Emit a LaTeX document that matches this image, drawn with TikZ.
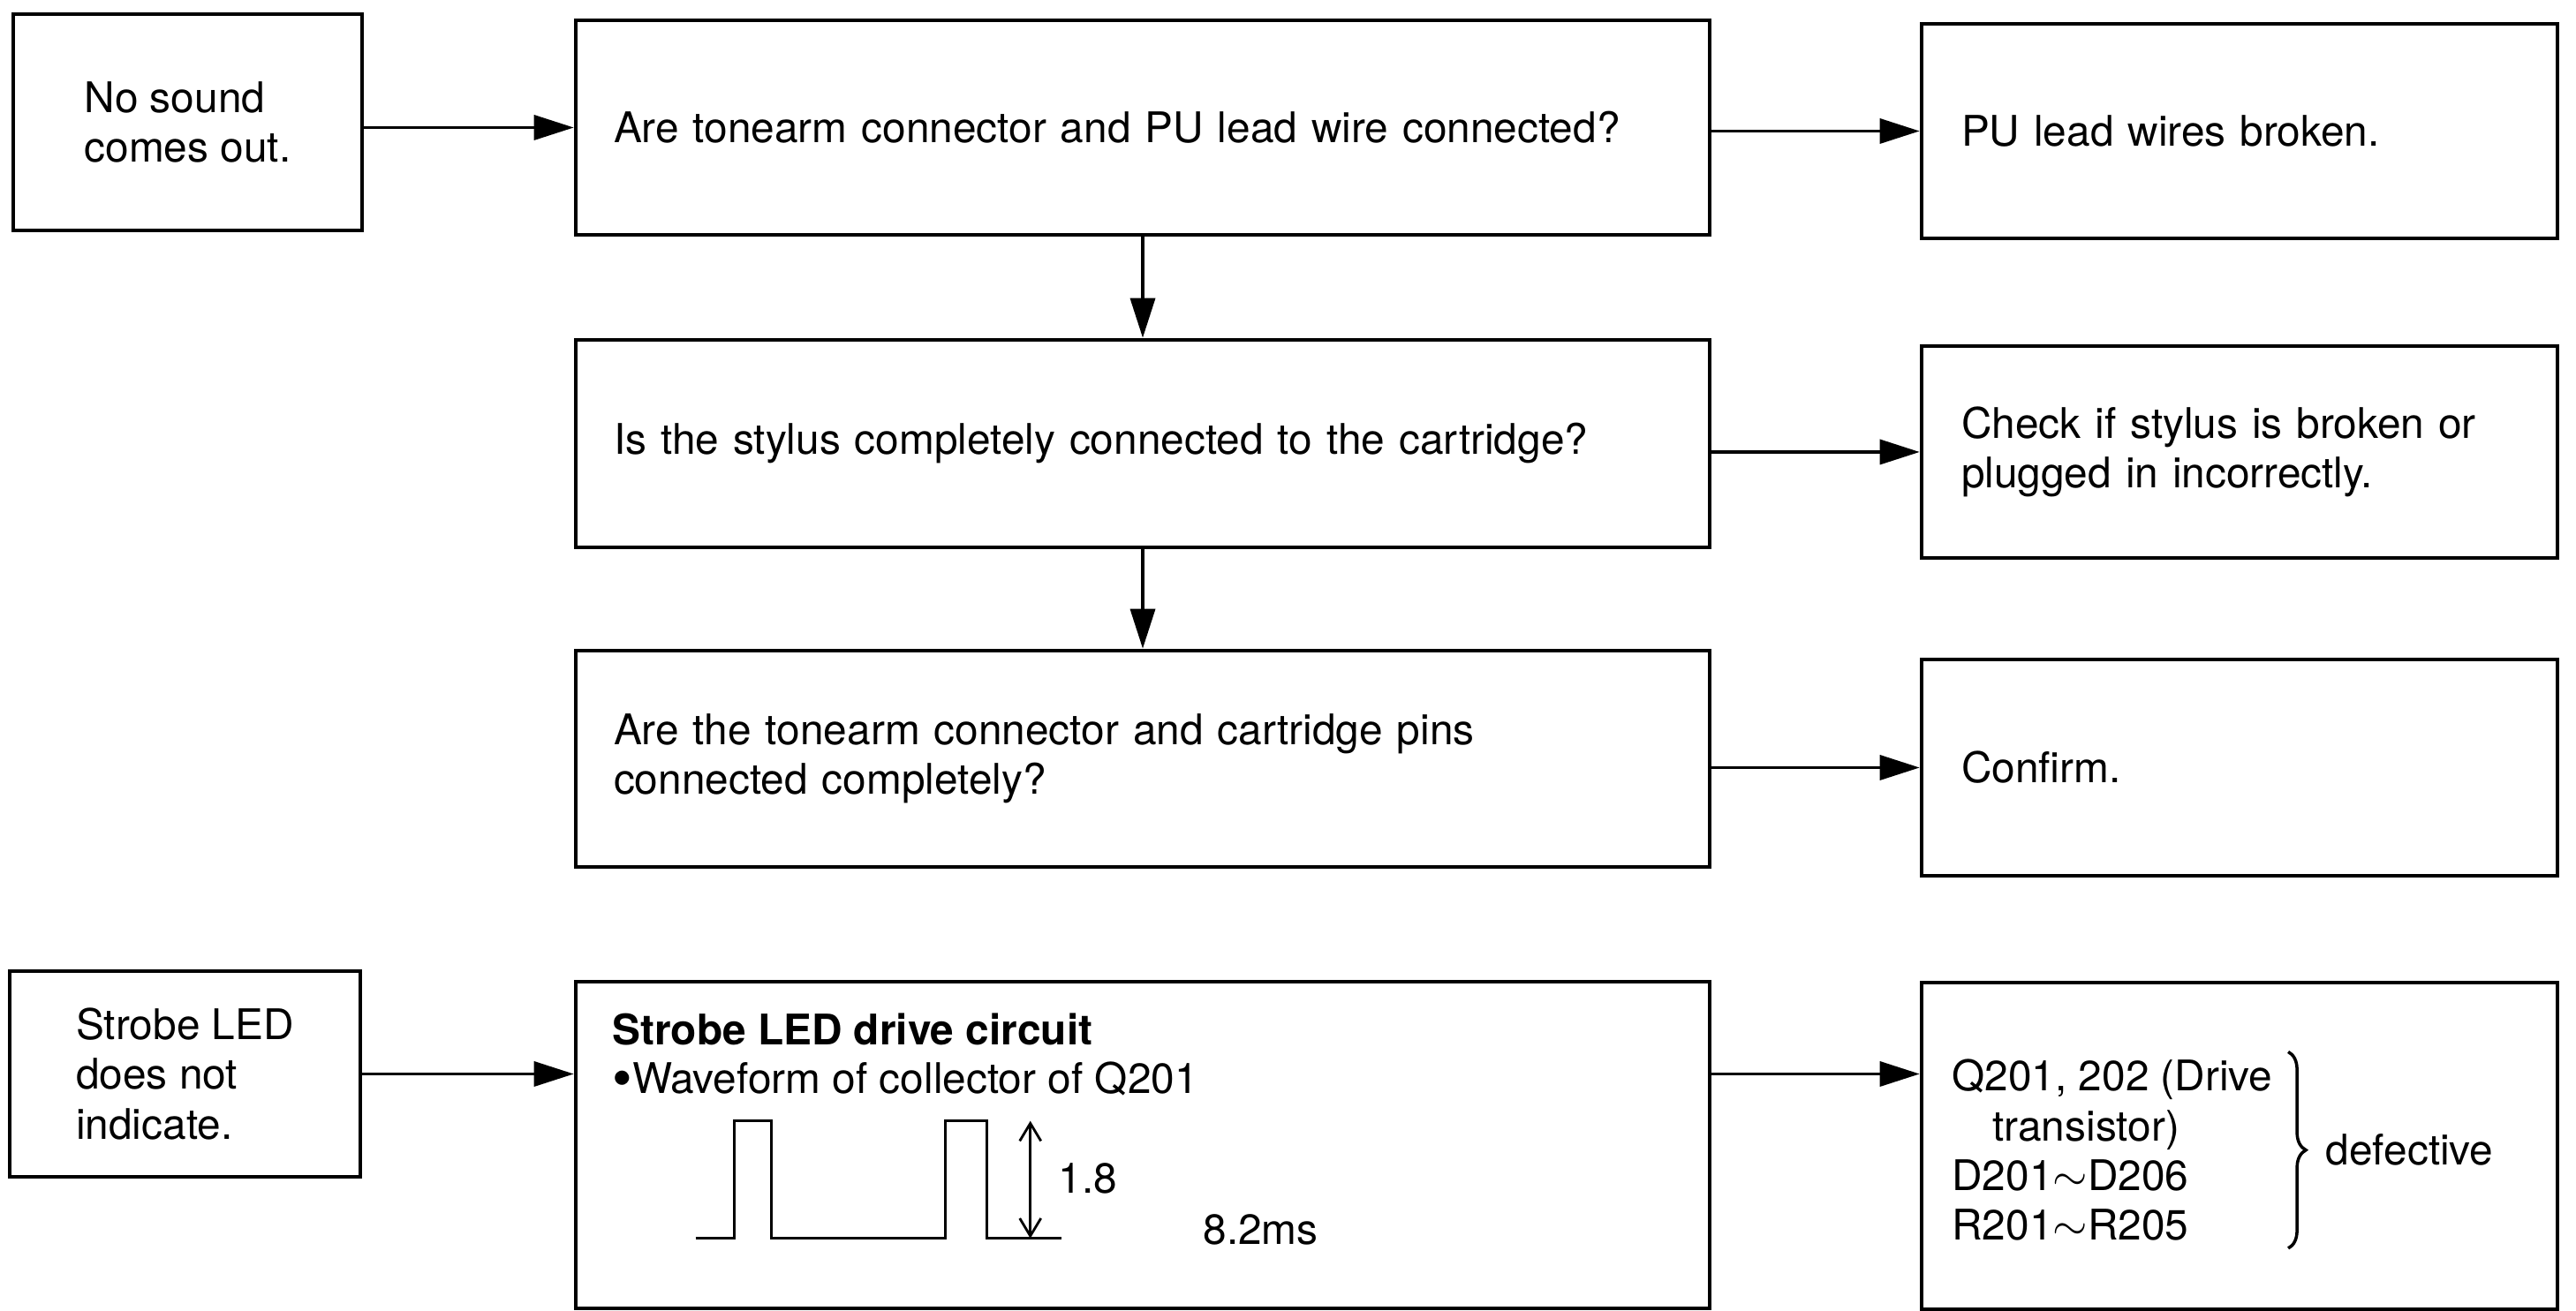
\documentclass[tikz,border=0pt]{standalone}
\usepackage{fontspec}
\setmainfont{TeX Gyre Heros}
\usetikzlibrary{arrows.meta,calc,decorations.pathreplacing}

\begin{document}
\begin{tikzpicture}[
  font=\fontsize{13.6}{16}\selectfont, >={Triangle[length=4.5mm,width=2.8mm]},
  box/.style={draw, line width=1.3pt, inner sep=0pt},
  start/.style={box, minimum width=3.95cm, minimum height=2.40cm, align=left},
  ask/.style={box, inner xsep=0.43cm, text width=11.98cm, minimum height=2.43cm, align=left},
  fix/.style={box, inner xsep=0.45cm, text width=6.30cm, minimum height=2.43cm, align=left},
  flow/.style={->, line width=1pt},
  wave/.style={line width=0.9pt},
  lbl/.style={inner sep=0pt, anchor=west},
]
\useasboundingbox (0,0) rectangle (29.17,-14.85);
% ---- no sound ----
\node[start, minimum height=2.45cm] (nosound) at (2.125,-1.385) {No sound\\comes out.};
\node[ask] (q1) at (12.94,-1.445) {Are tonearm connector and PU lead wire connected?};
\node[fix] (r1) at (25.36,-1.485) {PU lead wires broken.};
\node[ask, minimum height=2.35cm] (q2) at (12.94,-5.025)
  {Is the stylus completely connected to the cartridge?};
\node[fix, minimum height=2.40cm] (r2) at (25.36,-5.12)
  {Check if stylus is broken or\\plugged in incorrectly.};
\node[ask, minimum height=2.45cm] (q3) at (12.94,-8.595)
  {Are the tonearm connector and cartridge pins\\connected completely?};
\node[fix, minimum height=2.45cm] (r3) at (25.36,-8.695) {Confirm.};
% ---- strobe LED ----
\node[start, minimum width=3.97cm, minimum height=2.33cm] (strobe) at (2.095,-12.165)
  {Strobe LED\\does not\\indicate.};
\node[box, minimum width=12.84cm, minimum height=3.70cm] (drive) at (12.94,-12.97) {};
\node[box, minimum width=7.20cm, minimum height=3.70cm] (r4) at (25.36,-12.98) {};
% ---- drive circuit contents ----
\node[lbl] (title) at ($(drive.north west)+(0.43,-0.56)$) {\textbf{Strobe LED drive circuit}};
\node[lbl] (wavetxt) at ($(drive.north west)+(0.43,-1.13)$)
  {\raisebox{-0.2ex}{\scalebox{1.35}{\textbullet}}Waveform of collector of Q201};
\coordinate (wave) at ($(drive.north west)+(1.38,-2.93)$);
\draw[wave] (wave) -- ++(0.44,0) -- ++(0,1.33) -- ++(0.42,0) -- ++(0,-1.33)
  -- ++(1.97,0) -- ++(0,1.33) -- ++(0.47,0) -- ++(0,-1.33) -- ++(0.84,0);
\coordinate (amp) at ($(wave)+(3.79,0)$);
\coordinate (ampt) at ($(amp)+(0,1.33)$);
\draw[{Straight Barb[length=2mm,width=2.4mm]}-{Straight Barb[length=2mm,width=2.4mm]}, line width=0.8pt]
  (amp) -- (ampt);
\node[lbl] (ampv) at ($(amp)+(0.31,0.68)$) {1.8};
\node[lbl] (period) at ($(amp)+(1.95,0.10)$) {8.2ms};
% ---- defective parts ----
\node[lbl, align=left] (parts) at ($(r4.north west)+(0.36,-1.92)$)
  {Q201, 202 (Drive\\\hspace{0.46cm}transistor)\\D201$\sim$D206\\R201$\sim$R205};
\coordinate (bt) at ($(parts.north east)+(0.17,0.08)$);
\coordinate (bb) at ($(parts.south east)+(0.17,-0.08)$);
\draw[decorate, decoration={brace, amplitude=0.2cm}, line width=1pt] (bt) -- (bb);
\node[lbl] (bad) at ($(bt)!0.5!(bb)+(0.42,0)$) {defective};
% ---- arrows ----
\draw[flow] (nosound.east |- q1.west) -- (q1.west);
\draw[flow] (q1.east |- r1.west) -- (r1.west);
\draw[flow] (q1.south) -- (q2.north);
\draw[flow] (q2.east |- r2.west) -- (r2.west);
\draw[flow] (q2.south) -- (q3.north);
\draw[flow] (q3.east |- r3.west) -- (r3.west);
\draw[flow] (strobe.east) -- (strobe.east -| drive.west);
\draw[flow] (drive.east |- strobe.east) -- (r4.west |- strobe.east);
\end{tikzpicture}
\end{document}
